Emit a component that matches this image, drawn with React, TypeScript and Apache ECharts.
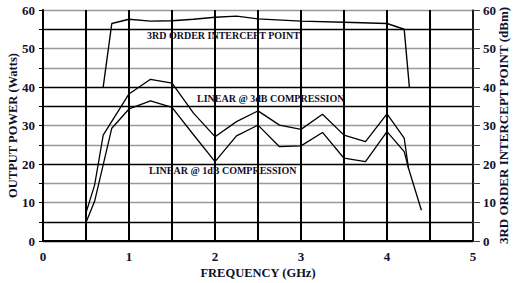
import React, { useEffect, useRef } from "react";
import * as echarts from "echarts";

const thirdOrder: [number, number][] = [
  [0.7, 40], [0.8, 56.5], [1.0, 57.6], [1.25, 57.1], [1.5, 57.2], [1.75, 57.6],
  [2.0, 58.1], [2.25, 58.4], [2.5, 57.7], [3.0, 57.1], [3.5, 56.8], [4.0, 56.5],
  [4.2, 55], [4.26, 40],
];
const linear3dB: [number, number][] = [
  [0.5, 7.3], [0.6, 14.5], [0.7, 27.5], [1.0, 38.2], [1.25, 42], [1.5, 41],
  [1.75, 33.2], [2.0, 27.1], [2.25, 31], [2.5, 33.8], [2.75, 30.1], [3.0, 29],
  [3.25, 32.9], [3.5, 27.5], [3.75, 25.8], [4.0, 33], [4.2, 26.7], [4.25, 18.9],
  [4.4, 8],
];
const linear1dB: [number, number][] = [
  [0.5, 4.8], [0.6, 10.3], [0.8, 29.3], [1.0, 34.3], [1.25, 36.4], [1.5, 34.7],
  [1.75, 27.6], [2.0, 20.6], [2.25, 27.3], [2.5, 30.1], [2.75, 24.5], [3.0, 24.7],
  [3.25, 28.2], [3.5, 21.5], [3.75, 20.6], [4.0, 28.4], [4.2, 23.2], [4.25, 18.9],
];
const labels = [
  { text: "3RD ORDER INTERCEPT POINT", x: 147, y: 35 },
  { text: "LINEAR @ 3dB COMPRESSION", x: 197, y: 98 },
  { text: "LINEAR @ 1dB COMPRESSION", x: 149, y: 170 },
];
const hGridColors = ["#000", "#000", "#999", "#999", "#000", "#999", "#999", "#000", "#000", "#999", "#999", "#000", "#999"];

const FONT = "'Liberation Serif', 'Times New Roman', serif";
const TXT = "#10102a";

export default function App() {
  const ref = useRef<HTMLDivElement>(null);
  useEffect(() => {
    const chart = echarts.init(ref.current!, null, { renderer: "svg" });
    const yAxisBase = {
      type: "value",
      min: 0,
      max: 60,
      interval: 5,
      axisLine: { show: true, lineStyle: { color: "#000", width: 2 } },
      axisTick: { show: true, length: 4, lineStyle: { color: "#000", width: 1 } },
      nameLocation: "middle",
      nameMoveOverlap: false,
      nameTextStyle: { fontFamily: FONT, fontWeight: "bold", fontSize: 12.5, color: TXT },
    };
    chart.setOption({
      animation: false,
      grid: { left: 43, right: 43, top: 10, bottom: 42, containLabel: false, outerBoundsMode: "none" },
      xAxis: {
        type: "value",
        min: 0,
        max: 5,
        interval: 0.5,
        name: "FREQUENCY (GHz)",
        nameLocation: "middle",
        nameMoveOverlap: false,
        nameGap: 25,
        nameTextStyle: { fontFamily: FONT, fontWeight: "bold", fontSize: 12.5, color: TXT },
        axisLine: { show: true, lineStyle: { color: "#000", width: 2 } },
        axisTick: { show: false },
        axisLabel: {
          margin: 9,
          fontFamily: FONT,
          fontWeight: "bold",
          fontSize: 13,
          color: TXT,
          formatter: (v: number) => (Number.isInteger(v) ? String(v) : ""),
        },
        splitLine: { show: true, lineStyle: { color: "#000", width: 2 } },
      },
      yAxis: [
        {
          ...yAxisBase,
          position: "left",
          name: "OUTPUT POWER (Watts)",
          nameGap: 24,
          axisLabel: {
            margin: 8,
            fontFamily: FONT,
            fontWeight: "bold",
            fontSize: 13,
            color: TXT,
            formatter: (v: number) => (v % 10 === 0 ? String(v) : ""),
          },
          splitLine: { show: true, lineStyle: { color: hGridColors, width: 1.4 } },
        },
        {
          ...yAxisBase,
          position: "right",
          name: "3RD ORDER INTERCEPT POINT (dBm)",
          nameGap: 24,
          nameTextStyle: { fontFamily: FONT, fontWeight: "bold", fontSize: 13, color: TXT },
          axisLine: { show: true, lineStyle: { color: "#222", width: 1.5 } },
          axisTick: { show: true, length: 7, lineStyle: { color: "#444", width: 1 } },
          axisLabel: {
            margin: 10,
            fontFamily: FONT,
            fontWeight: "bold",
            fontSize: 13,
            color: TXT,
            formatter: (v: number) => (v % 10 === 0 ? String(v) : ""),
          },
          splitLine: { show: false },
        },
      ],
      series: [
        {
          type: "line",
          name: "3rd order",
          yAxisIndex: 1,
          data: thirdOrder,
          symbol: "none",
          lineStyle: { color: "#000", width: 1.4 },
        },
        {
          type: "line",
          name: "3dB",
          data: linear3dB,
          symbol: "none",
          lineStyle: { color: "#000", width: 1.3 },
        },
        {
          type: "line",
          name: "1dB",
          data: linear1dB,
          symbol: "none",
          lineStyle: { color: "#000", width: 1.3 },
        },
      ],
      graphic: labels.map((l) => ({
        type: "text",
        x: l.x,
        y: l.y,
        z: 100,
        style: {
          text: l.text,
          font: `bold 10px ${FONT}`,
          fill: TXT,
          verticalAlign: "middle",
        },
      })),
    });
    return () => chart.dispose();
  }, []);
  return (
    <div
      ref={ref}
      style={{ position: "fixed", left: 0, top: 0, width: 516, height: 283, background: "#fff" }}
    />
  );
}
